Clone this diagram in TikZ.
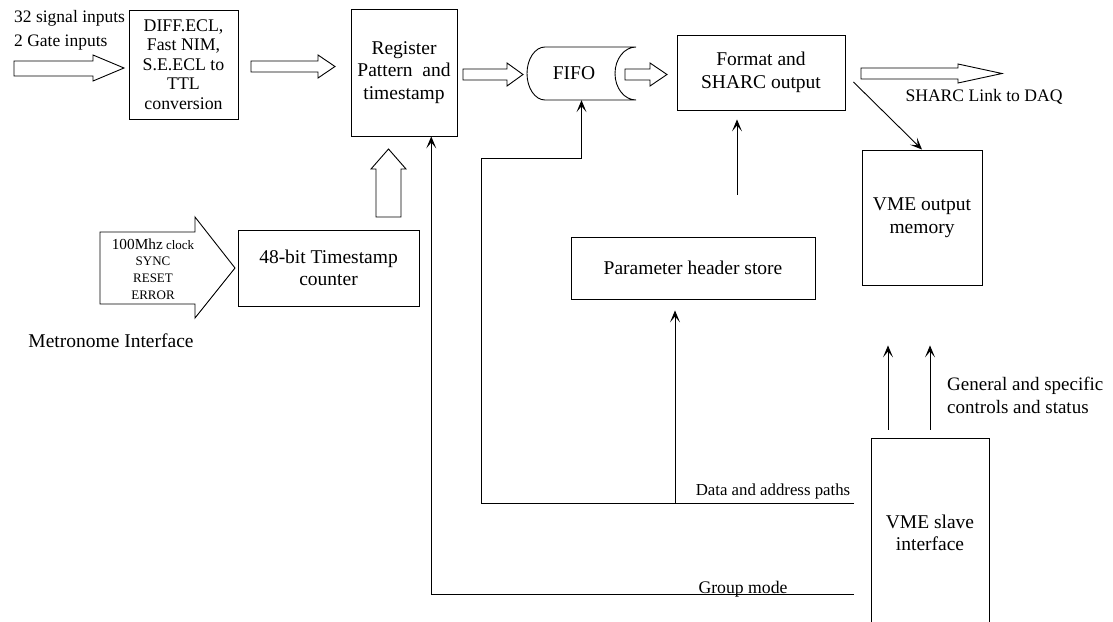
\documentclass[tikz,border=0pt]{standalone}
\usepackage{fontspec}
\setmainfont{Liberation Serif}
\usetikzlibrary{arrows.meta,calc}
\tikzset{
  box/.style={draw, line width=0.9pt, inner sep=0pt, align=center,
    font=\fontsize{19.5}{22.5}\selectfont},
  arr/.style={line width=0.9pt, -{Stealth[length=12pt,width=10pt,inset=6pt]}},
  wire/.style={line width=0.9pt},
  blk/.style={draw, line width=0.9pt, fill=white, line join=miter},
  lbl/.style={inner sep=0pt, align=center},
}
\begin{document}
\begin{tikzpicture}[x=1pt,y=-1pt]
\useasboundingbox (0,0) rectangle (1113,621);
\clip (0,0) rectangle (1113,621);

% ---------- boxes ----------
\node[box, minimum width=109pt, minimum height=109pt,
      font=\fontsize{17.8}{19.5}\selectfont] (diff) at (183.5,64.5)
  {DIFF.ECL,\\Fast NIM,\\S.E.ECL to\\TTL\\conversion};
\node[box, minimum width=106pt, minimum height=127pt] (reg) at (404,72.5)
  {Register\\Pattern\ \ and\\timestamp};
\node[box, minimum width=168pt, minimum height=75pt] (fmt) at (761,72.5)
  {Format and\\SHARC output};
\node[box, minimum width=120pt, minimum height=135pt] (vmeout) at (922,217.5)
  {VME output\\memory};
\node[box, minimum width=181pt, minimum height=76pt] (cnt) at (328.5,268)
  {48-bit Timestamp\\counter};
\node[box, minimum width=244pt, minimum height=62pt] (param) at (693,268)
  {Parameter header store};
\node[box, minimum width=118pt, minimum height=190pt] (slave) at (930,533)
  {VME slave\\interface};

% ---------- FIFO ----------
\node[inner sep=0pt, minimum width=109pt, minimum height=53pt] (fifo) at (581.5,73.5) {};
\draw[line width=0.9pt] (545,47) -- (636,47)
  arc[start angle=90, end angle=270, x radius=21, y radius=-26.5]
  -- (545,100)
  arc[start angle=270, end angle=90, x radius=18, y radius=-26.5] -- cycle;
\node[lbl, font=\fontsize{19.5}{22.5}\selectfont] (fifolabel) at (574,73.5) {FIFO};

% ---------- block arrows ----------
\draw[blk] (14,61) -- (93,61) -- (93,55) -- (124,68) -- (93,81) -- (93,76) -- (14,76) -- cycle;
\draw[blk] (251,61) -- (318,61) -- (318,55) -- (335,66.5) -- (318,78) -- (318,72) -- (251,72) -- cycle;
\draw[blk] (463,69) -- (507,69) -- (507,63) -- (523,74.5) -- (507,86) -- (507,80) -- (463,80) -- cycle;
\draw[blk] (625,69) -- (650,69) -- (650,63) -- (667,74.5) -- (650,86) -- (650,80) -- (625,80) -- cycle;
\draw[blk] (861,68) -- (958,68) -- (958,64) -- (1002,73.5) -- (958,83) -- (958,79) -- (861,79) -- cycle;
\draw[blk] (376,217) -- (376,169) -- (371,169) -- (388.5,149) -- (406,169) -- (401,169) -- (401,217) -- cycle;
\draw[blk] (100,232) -- (195,232) -- (195,217) -- (235,268) -- (195,318) -- (195,304) -- (100,304) -- cycle;

% ---------- labels ----------
\node[lbl, anchor=west, font=\fontsize{17.5}{20}\selectfont] (sig) at (14,18) {32 signal inputs};
\node[lbl, anchor=west, font=\fontsize{17.5}{20}\selectfont] (gate) at (14,43) {2 Gate inputs};
\node[lbl, font=\fontsize{13}{16.8}\selectfont] (metin) at (153,269)
  {{\fontsize{15.3}{16.8}\selectfont 100Mhz} clock\\SYNC\\RESET\\ERROR};
\node[lbl, font=\fontsize{19.5}{22}\selectfont] (metro) at (111,341) {Metronome Interface};
\node[lbl, font=\fontsize{17.6}{20}\selectfont] (sharc) at (984,97) {SHARC Link to DAQ};
\node[lbl, anchor=west, align=left, font=\fontsize{19}{23}\selectfont] (gen) at (947,395.5)
  {General and specific\\controls and status};
\node[lbl, font=\fontsize{16.8}{20}\selectfont] (dlabel) at (773,491) {Data and address paths};
\node[lbl, font=\fontsize{17.7}{20}\selectfont] (glabel) at (743,589) {Group mode};

% ---------- connectors ----------
\coordinate (gm) at (854,594);
\coordinate (dp) at (854,503);
\coordinate (pj) at (675,503);
\coordinate (dcorner) at (481,158);

\draw[arr] (gm) -| ($(reg.south west)!0.755!(reg.south east)$);
\draw[wire] (dp) -| (dcorner);
\draw[arr] (dcorner) -| (fifo.south);
\draw[arr, shorten >=11pt] (pj) -- (param.south -| pj);
\draw[arr, shorten <=42pt, shorten >=9pt] (param.north -| 737,0) -- (fmt.south -| 737,0);
\draw[arr] ([xshift=8pt,yshift=-9.5pt]fmt.east) -- (vmeout.north);
\draw[arr, shorten <=8pt, shorten >=60pt] (slave.north -| 888,0) -- (vmeout.south -| 888,0);
\draw[arr, shorten <=8pt, shorten >=60pt] (slave.north) -- (vmeout.south -| slave.north);
\end{tikzpicture}
\end{document}
